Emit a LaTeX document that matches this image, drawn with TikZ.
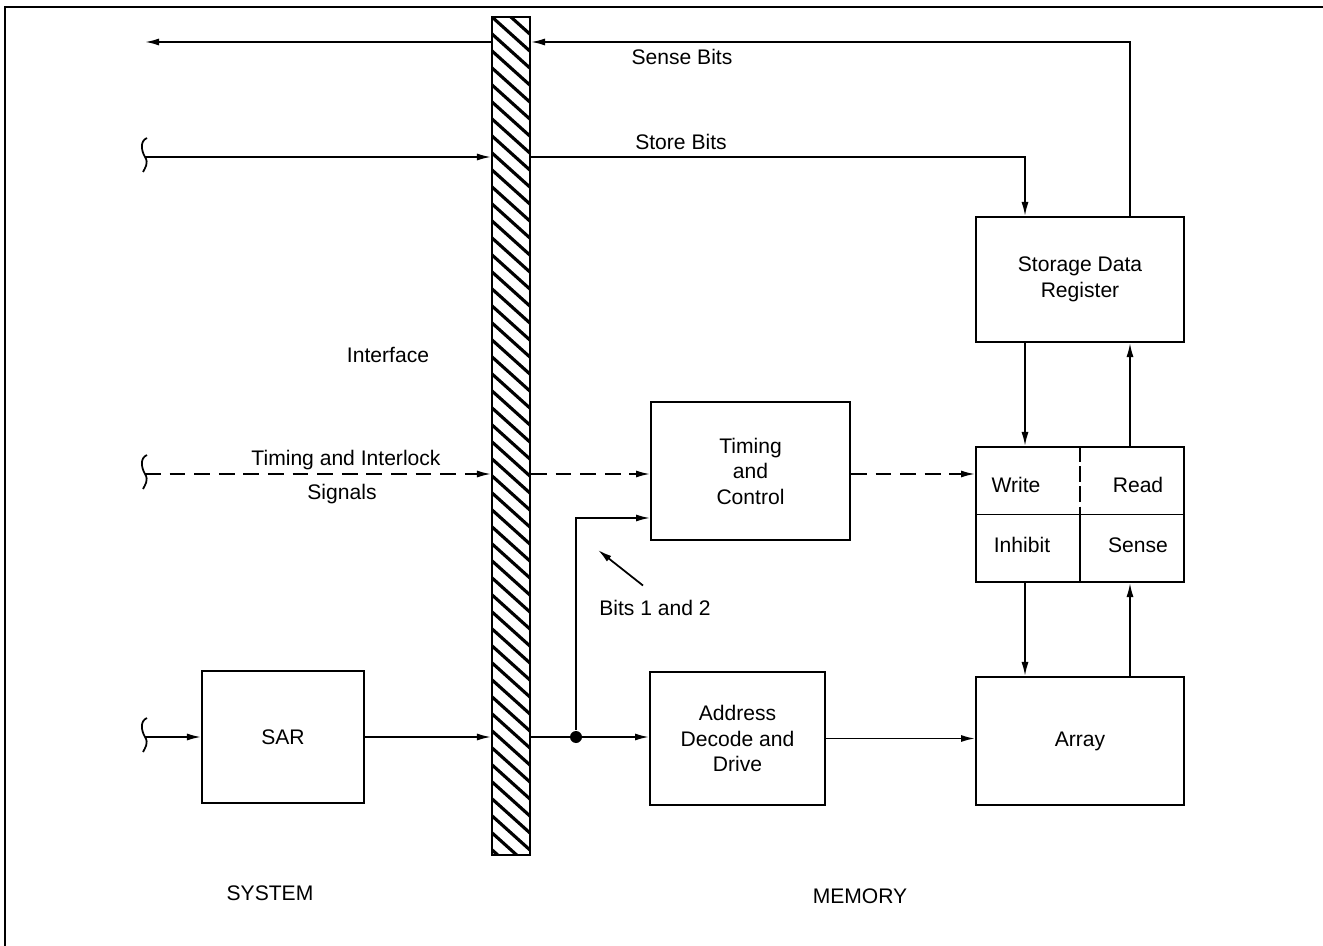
\documentclass[tikz,border=0pt]{standalone}
\usepackage{fontspec}
\setmainfont{Liberation Sans}
\usetikzlibrary{arrows.meta}

\begin{document}
\begin{tikzpicture}[
        x=0.02cm, y=-0.02cm,
        >={Latex[length=8pt,width=4pt]},
        line width=1pt,
        every node/.style = {font=\fontsize{12}{14.5}\selectfont},
        box/.style  = {draw, line width=1.1pt, align=center, inner sep=0pt},
        bar/.style  = {draw, line width=1.1pt, inner sep=0pt, minimum width=0.76cm, minimum height=16.76cm},
        dot/.style  = {circle, fill, inner sep=0pt, minimum size=0.24cm},
        sig/.style  = {dash pattern=on 9pt off 5pt},
        half/.style = {dash pattern=on 9pt off 2.5pt},
        brk/.pic    = {\draw (2,-19) .. controls (-5,-16) and (-4,-7) .. (0,0)
                              .. controls (4,6) and (0,11) .. (-2,15);}
    ]
        \useasboundingbox (0,0) rectangle (1323,946);
        \draw (5,946) -- (5,7) -- (1323,7);

        \node[bar] (ifc) at (511,436) {};
        \begin{scope}
            \clip (ifc.north west) rectangle (ifc.south east);
            \foreach \k in {0,...,54}
                \draw[line width=1.8pt] ([yshift={-(\k-3)*0.34cm}]ifc.north west) -- ++(40,36);
        \end{scope}

        \node[box, minimum width=3.24cm, minimum height=2.64cm] (sar) at (283,737)    {SAR};
        \node[box, minimum width=3.5cm,  minimum height=2.66cm] (adr) at (737.5,738.5) {Address\\Decode and\\Drive};
        \node[box, minimum width=3.98cm, minimum height=2.76cm] (tac) at (750.5,471)  {Timing\\and\\Control};
        \node[box, minimum width=4.16cm, minimum height=2.5cm]  (sdr) at (1080,279.5) {Storage Data\\Register};
        \node[box, minimum width=4.16cm, minimum height=2.7cm]  (wr)  at (1080,514.5) {};
        \node[box, minimum width=4.16cm, minimum height=2.56cm] (arr) at (1080,741)   {Array};

        \draw[line width=1.1pt] (wr.west) -- (wr.east);
        \draw[line width=1.1pt, half] (wr.north) -- (wr.center);
        \draw[line width=1.1pt] (wr.center) -- (wr.south);
        \node (wrt) at (1016,485) {Write};
        \node (rd)  at (1138,485) {Read};
        \node (inh) at (1022,545) {Inhibit};
        \node (sns) at (1138,545) {Sense};

        \coordinate (sout) at (145,42);
        \coordinate (sin)  at (145,157);
        \coordinate (tin)  at (145,474);
        \coordinate (ain)  at (145,737);
        \pic at (sin) {brk};
        \pic at (tin) {brk};
        \pic at (ain) {brk};

        \draw[->] ([xshift=1cm]sdr.north) |- (ifc.east |- sout);
        \draw[->] (ifc.west |- sout) -- (sout);
        \draw[->] (sin) -- (ifc.west |- sin);
        \draw[->] (ifc.east |- sin) -| ([xshift=-1.1cm]sdr.north);
        \node (sbl) at (682,57)  {Sense Bits};
        \node (stl) at (681,142) {Store Bits};

        \draw[->] ([xshift=-1.1cm]sdr.south) -- ([xshift=-1.1cm]wr.north);
        \draw[->] ([xshift=1cm]wr.north)     -- ([xshift=1cm]sdr.south);
        \draw[->] ([xshift=-1.1cm]wr.south)  -- ([xshift=-1.1cm]arr.north);
        \draw[->] ([xshift=1cm]arr.north)    -- ([xshift=1cm]wr.south);

        \draw[->, sig] (tin) -- (ifc.west |- tin);
        \draw[->, sig] (ifc.east |- tin) -- (tac.west |- tin);
        \draw[->, sig] (tac.east |- tin) -- (wr.west |- tin);
        \node (til) at (346,460) {Timing and Interlock};
        \node (sgl) at (342,494) {Signals};

        \draw[->] (ain) -- (sar.west);
        \draw[->] (sar.east) -- (ifc.west |- sar.east);
        \node[dot] (jn) at (576,737) {};
        \draw[->] (ifc.east |- jn) -- (adr.west |- jn);
        \draw[->] (jn) |- ([yshift=-0.94cm]tac.west);
        \draw[->] (adr.east) -- (arr.west |- adr.east);

        \coordinate (bt) at (598,550);
        \node (bl) at (655,608) {Bits 1 and 2};
        \draw[->] ([shift={(-12,-8)}]bl.north) -- (bt);

        \node (ifl) at (388,355) {Interface};
        \node (sys) at (270,893) {SYSTEM};
        \node (mem) at (860,896) {MEMORY};
    \end{tikzpicture}
\end{document}
